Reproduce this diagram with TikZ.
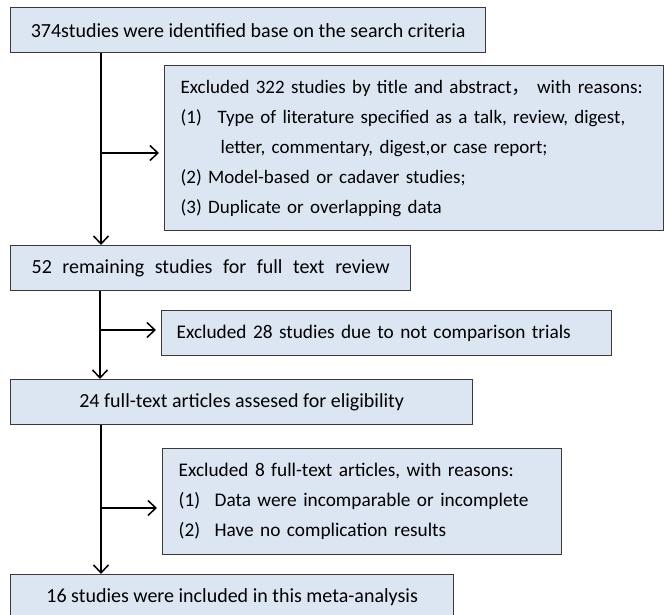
\documentclass[tikz,border=0pt]{standalone}
\usepackage{fontspec}
\setmainfont{Carlito}
\newfontfamily\cjk{Noto Sans CJK SC}
\usetikzlibrary{arrows.meta}
\definecolor{boxfill}{HTML}{DCE6F2}
\definecolor{boxline}{HTML}{3A3A3A}
\begin{document}
\begin{tikzpicture}[x=1pt,y=-1pt,
  box/.style={draw=boxline, fill=boxfill, line width=1.3pt, rectangle, inner sep=0pt,
              anchor=north west, font=\fontsize{20}{30}\selectfont},
  listfont/.style={font=\fontsize{19.3}{30}\selectfont},
  arr/.style={-{Straight Barb[length=8pt,width=15pt,line width=1.5pt]}, line width=1.5pt},
  side/.style={arr, shorten >=5pt}]
\useasboundingbox (0,0) rectangle (664,615);
\clip (0,0) rectangle (664,615);

\node[box, minimum width=475, minimum height=45] (b1) at (10,7)
  {374studies were identified base on the search criteria};

\node[box, font=\fontsize{19}{30}\selectfont, minimum width=499, minimum height=165, text width=467, align=left] (b2) at (164,65)
  {\makebox[467pt][l]{Excluded 322 studies by title and abstract{\cjk ，}\ with reasons:}\\
   \makebox[37pt][l]{(1)}Type of literature specified as a talk, review, digest,\\
   \hspace*{40pt}letter, commentary, digest,or case report;\\
   (2) Model-based or cadaver studies;\\
   (3) Duplicate or overlapping data};

\node[box, minimum width=400, minimum height=45] (b3) at (10,245)
  {\makebox[358pt][s]{52 remaining studies for full text review}};

\node[box, listfont, minimum width=450, minimum height=45, text width=420, align=left] (b4) at (161,310)
  {Excluded 28 studies due to not comparison trials};

\node[box, minimum width=462, minimum height=45] (b5) at (10,379)
  {24 full-text articles assesed for eligibility};

\node[box, listfont, minimum width=399, minimum height=106, text width=367, align=left] (b6) at (162,448)
  {Excluded 8 full-text articles, with reasons:\\
   \makebox[36pt][l]{(1)}Data were incomparable or incomplete\\
   \makebox[36pt][l]{(2)}Have no complication results};

\node[box, minimum width=443, minimum height=46] (b7) at (10,574)
  {16 studies were included in this meta-analysis};

% main vertical arrows
\draw[arr] ([xshift=91pt]b1.south west) -- ([xshift=91pt]b3.north west);
\draw[arr] ([xshift=90pt]b3.south west) -- ([xshift=90pt]b5.north west);
\draw[arr] ([xshift=91pt]b5.south west) -- ([xshift=91pt]b7.north west);

% side arrows
\coordinate (j1) at (101,153);
\coordinate (j2) at (100,330);
\coordinate (j3) at (101,508);
\draw[side] (j1) -- (j1 -| b2.west);
\draw[side] (j2) -- (j2 -| b4.west);
\draw[side] (j3) -- (j3 -| b6.west);
\end{tikzpicture}
\end{document}
